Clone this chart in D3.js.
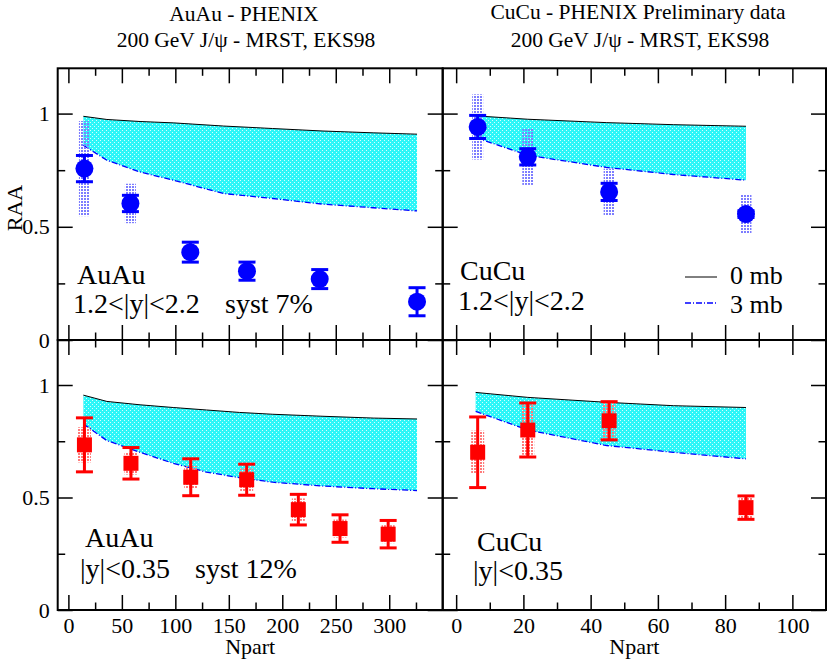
<!DOCTYPE html>
<html><head><meta charset="utf-8">
<script src="https://cdn.jsdelivr.net/npm/d3@7"></script>
<style>body{margin:0;background:#fff} svg{display:block} text{font-family:"Liberation Serif","Times New Roman",serif;fill:#000}</style>
</head><body><svg id="c" width="830" height="662"></svg>
<script>
// ---------- data ----------
const auTicks = [0, 50, 100, 150, 200, 250, 300];
const auMinor = [25, 75, 125, 175, 225, 275, 325];
const cuTicks = [0, 20, 40, 60, 80, 100];
const cuMinor = [10, 30, 50, 70, 90];
const yTicks = [0, 0.5, 1];
const yMinor = [0.25, 0.75];

// AuAu forward (1.2<|y|<2.2)
const auFwdNpart = [15, 58, 114, 167, 235, 326];
const auFwdRaa   = [0.757, 0.603, 0.388, 0.304, 0.269, 0.169];
const auFwdStat  = [0.058, 0.036, 0.044, 0.040, 0.042, 0.062];
const auFwdSyst  = [0.21, 0.087, 0.015, 0.015, 0.015, 0.015];
// CuCu forward
const cuFwdNpart = [6.4, 21.3, 45.5, 86.2];
const cuFwdRaa   = [0.941, 0.809, 0.654, 0.556];
const cuFwdStat  = [0.051, 0.036, 0.038, 0.015];
const cuFwdSyst  = [0.144, 0.124, 0.103, 0.085];
// AuAu mid (|y|<0.35)
const auMidNpart = [15, 58.5, 114.4, 166.7, 215, 254, 299];
const auMidRaa   = [0.734, 0.652, 0.590, 0.579, 0.446, 0.362, 0.337];
const auMidStat  = [0.120, 0.070, 0.082, 0.069, 0.068, 0.061, 0.061];
const auMidSyst  = [0.078, 0.050, 0.050, 0.050, 0.050, 0.040, 0.040];
// CuCu mid
const cuMidNpart = [6.4, 21.3, 45.5, 86.2];
const cuMidRaa   = [0.701, 0.800, 0.841, 0.455];
const cuMidStat  = [0.157, 0.120, 0.085, 0.052];
const cuMidSyst  = [0.096, 0.110, 0.085, 0.050];

// theory bands (0 mb upper, 3 mb lower)
const auFwdThN   = [14, 36, 67, 98, 145, 191, 238, 285, 326];
const auFwd0mb   = [0.988, 0.974, 0.965, 0.959, 0.945, 0.934, 0.923, 0.915, 0.909];
const auFwd3mb   = [0.860, 0.794, 0.742, 0.706, 0.647, 0.625, 0.600, 0.584, 0.570];
const auMidThN   = [14, 36, 67, 98, 129, 160, 191, 238, 285, 326];
const auMid0mb   = [0.955, 0.927, 0.912, 0.900, 0.889, 0.878, 0.870, 0.861, 0.853, 0.849];
const auMid3mb   = [0.827, 0.753, 0.701, 0.652, 0.613, 0.588, 0.568, 0.551, 0.539, 0.531];
const cuThN      = [5.8, 21.3, 44.8, 64.6, 86.2];
const cuFwd0mb   = [0.990, 0.975, 0.960, 0.951, 0.944];
const cuFwd3mb   = [0.894, 0.816, 0.762, 0.731, 0.706];
const cuMid0mb   = [0.967, 0.945, 0.923, 0.908, 0.900];
const cuMid3mb   = [0.883, 0.800, 0.731, 0.701, 0.672];

// ---------- layout ----------
const L = 57.7, M = 442.7, R = 826, T = 68.3, H = 340, B = 610;
const xAu = d3.scaleLinear([-10, 350], [L, M]);
const xCu = d3.scaleLinear([-4, 110], [M, R]);
const yTop = d3.scaleLinear([0, 1.2], [H, T]);
const yBot = d3.scaleLinear([0, 1.2], [B, H]);

const svg = d3.select("#c");
const defs = svg.append("defs");
const pb = defs.append("pattern").attr("id", "band").attr("width", 4).attr("height", 4).attr("patternUnits", "userSpaceOnUse");
pb.append("rect").attr("width", 4).attr("height", 4).attr("fill", "#2cf6f8");
pb.append("rect").attr("x", 0).attr("y", 0).attr("width", 1).attr("height", 1).attr("fill", "#d2ffff");
pb.append("rect").attr("x", 2).attr("y", 2).attr("width", 1).attr("height", 1).attr("fill", "#d2ffff");
function stipple(id, col) {
  const p = defs.append("pattern").attr("id", id).attr("width", 3).attr("height", 3).attr("patternUnits", "userSpaceOnUse");
  p.append("rect").attr("width", 2).attr("height", 2).attr("fill", col);
}
stipple("sb", "#7d7dff");
stipple("sr", "#ff7a7a");

function panel(x, y, thN, up, lo, npart, raa, stat, syst, color, marker) {
  const g = svg.append("g");
  const area = d3.area().x((d, i) => x(thN[i])).y0((d, i) => y(lo[i])).y1((d, i) => y(up[i]));
  g.append("path").datum(thN).attr("d", area).attr("fill", "url(#band)");
  const line = arr => d3.line().x((d, i) => x(thN[i])).y((d, i) => y(arr[i]));
  g.append("path").datum(thN).attr("d", line(up)).attr("fill", "none").attr("stroke", "#000").attr("stroke-width", 1);
  g.append("path").datum(thN).attr("d", line(lo)).attr("fill", "none").attr("stroke", "#0000ff").attr("stroke-width", 1.3).attr("stroke-dasharray", "6,2,1,2");
  const pts = npart.map((n, i) => ({n, v: raa[i], s: stat[i], sy: syst[i]}));
  const sw = color === "blue" ? 11 : 13;
  g.selectAll(".sys").data(pts).join("rect")
    .attr("x", d => x(d.n) - sw / 2).attr("width", sw)
    .attr("y", d => y(d.v + d.sy)).attr("height", d => y(d.v - d.sy) - y(d.v + d.sy))
    .attr("fill", color === "blue" ? "url(#sb)" : "url(#sr)");
  const col = color === "blue" ? "#0000ff" : "#ff0000";
  const eb = g.selectAll(".eb").data(pts).join("g").attr("stroke", col).attr("stroke-width", 3);
  eb.append("line").attr("x1", d => x(d.n)).attr("x2", d => x(d.n)).attr("y1", d => y(d.v + d.s)).attr("y2", d => y(d.v - d.s));
  eb.append("line").attr("x1", d => x(d.n) - 8.5).attr("x2", d => x(d.n) + 8.5).attr("y1", d => y(d.v + d.s)).attr("y2", d => y(d.v + d.s));
  eb.append("line").attr("x1", d => x(d.n) - 8.5).attr("x2", d => x(d.n) + 8.5).attr("y1", d => y(d.v - d.s)).attr("y2", d => y(d.v - d.s));
  if (marker === "circle") {
    g.selectAll(".mk").data(pts).join("circle").attr("cx", d => x(d.n)).attr("cy", d => y(d.v)).attr("r", 9).attr("fill", col);
  } else {
    g.selectAll(".mk").data(pts).join("rect").attr("x", d => x(d.n) - 7.5).attr("y", d => y(d.v) - 7.5).attr("width", 15).attr("height", 15).attr("fill", col);
  }
}

panel(xAu, yTop, auFwdThN, auFwd0mb, auFwd3mb, auFwdNpart, auFwdRaa, auFwdStat, auFwdSyst, "blue", "circle");
panel(xCu, yTop, cuThN, cuFwd0mb, cuFwd3mb, cuFwdNpart, cuFwdRaa, cuFwdStat, cuFwdSyst, "blue", "circle");
panel(xAu, yBot, auMidThN, auMid0mb, auMid3mb, auMidNpart, auMidRaa, auMidStat, auMidSyst, "red", "square");
panel(xCu, yBot, cuThN, cuMid0mb, cuMid3mb, cuMidNpart, cuMidRaa, cuMidStat, cuMidSyst, "red", "square");

// ---------- axes ----------
function styleAx(sel) {
  sel.select(".domain").remove();
  sel.attr("font-family", "Liberation Serif, Times New Roman, serif").attr("font-size", 22);
  sel.selectAll("line").attr("stroke", "#000").attr("stroke-width", 1.5);
}
function axes(x, y, xt, xm, showX, showY) {
  const [y0, y1] = y.range(); const [x0, x1] = x.range();
  const ax = svg.append("g");
  ax.append("g").attr("transform", `translate(0,${y0})`).call(d3.axisBottom(x).tickValues(xt).tickSizeInner(-15).tickSizeOuter(0).tickPadding(7).tickFormat(showX ? d3.format("d") : "")).call(styleAx);
  ax.append("g").attr("transform", `translate(0,${y0})`).call(d3.axisBottom(x).tickValues(xm).tickSizeInner(-7.5).tickSizeOuter(0).tickFormat("")).call(styleAx);
  ax.append("g").attr("transform", `translate(0,${y1})`).call(d3.axisTop(x).tickValues(xt).tickSizeInner(-15).tickSizeOuter(0).tickFormat("")).call(styleAx);
  ax.append("g").attr("transform", `translate(0,${y1})`).call(d3.axisTop(x).tickValues(xm).tickSizeInner(-7.5).tickSizeOuter(0).tickFormat("")).call(styleAx);
  ax.append("g").attr("transform", `translate(${x0},0)`).call(d3.axisLeft(y).tickValues(yTicks).tickSizeInner(-15).tickSizeOuter(0).tickPadding(8).tickFormat(showY ? d3.format("") : "")).call(styleAx);
  ax.append("g").attr("transform", `translate(${x0},0)`).call(d3.axisLeft(y).tickValues(yMinor).tickSizeInner(-7.5).tickSizeOuter(0).tickFormat("")).call(styleAx);
  ax.append("g").attr("transform", `translate(${x1},0)`).call(d3.axisRight(y).tickValues(yTicks).tickSizeInner(-15).tickSizeOuter(0).tickFormat("")).call(styleAx);
  ax.append("g").attr("transform", `translate(${x1},0)`).call(d3.axisRight(y).tickValues(yMinor).tickSizeInner(-7.5).tickSizeOuter(0).tickFormat("")).call(styleAx);
  ax.append("rect").attr("x", x0).attr("y", y1).attr("width", x1 - x0).attr("height", y0 - y1).attr("fill", "none").attr("stroke", "#000").attr("stroke-width", 2);
}
axes(xAu, yTop, auTicks, auMinor, false, true);
axes(xCu, yTop, cuTicks, cuMinor, false, false);
axes(xAu, yBot, auTicks, auMinor, true, true);
axes(xCu, yBot, cuTicks, cuMinor, true, false);

// ---------- text ----------
function txt(x, y, s, size, anchor) {
  return svg.append("text").attr("x", x).attr("y", y).attr("font-size", size).attr("text-anchor", anchor || "start").text(s);
}
txt(244, 21, "AuAu - PHENIX", 21.5, "middle");
txt(246, 47, "200 GeV J/ψ - MRST, EKS98", 21.5, "middle");
txt(638, 19, "CuCu - PHENIX Preliminary data", 21.5, "middle");
txt(640, 47, "200 GeV J/ψ - MRST, EKS98", 21.5, "middle");
svg.append("text").attr("transform", "translate(22,208) rotate(-90)").attr("text-anchor", "middle").attr("font-size", 22).text("RAA");
txt((L + M) / 2, 654, "Npart", 22, "middle");
txt((M + R) / 2, 654, "Npart", 22, "middle");

txt(77, 284, "AuAu", 28);
txt(73, 313, "1.2<|y|<2.2", 28);
txt(225, 313, "syst 7%", 28);
txt(460, 280, "CuCu", 28);
txt(458, 310, "1.2<|y|<2.2", 28);
txt(730, 284, "0 mb", 26);
txt(730, 313, "3 mb", 26);
svg.append("line").attr("x1", 685).attr("x2", 717).attr("y1", 277).attr("y2", 277).attr("stroke", "#000").attr("stroke-width", 1);
svg.append("line").attr("x1", 685).attr("x2", 717).attr("y1", 303).attr("y2", 303).attr("stroke", "#0000ff").attr("stroke-width", 1.3).attr("stroke-dasharray", "6,2,1,2");
txt(85, 547, "AuAu", 28);
txt(80, 578, "|y|<0.35", 28);
txt(195, 578, "syst 12%", 28);
txt(477, 551, "CuCu", 28);
txt(473, 580, "|y|<0.35", 28);
</script></body></html>
